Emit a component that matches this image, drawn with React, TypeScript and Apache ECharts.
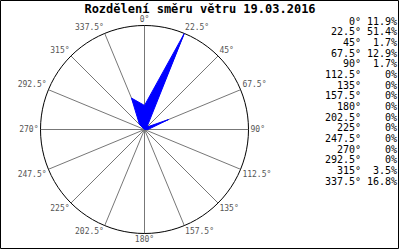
import React, { useEffect, useRef } from "react";
import * as echarts from "echarts";

const titleText = "Rozdělení směru větru 19.03.2016";
const directions = [0, 22.5, 45, 67.5, 90, 112.5, 135, 157.5, 180, 202.5, 225, 247.5, 270, 292.5, 315, 337.5];
const percents = [11.9, 51.4, 1.7, 12.9, 1.7, 0, 0, 0, 0, 0, 0, 0, 0, 0, 3.5, 16.8];

const MONO = "'DejaVu Sans Mono', 'Liberation Mono', monospace";

export default function App() {
  const ref = useRef<HTMLDivElement>(null);
  useEffect(() => {
    if (!ref.current) return;
    const chart = echarts.init(ref.current, undefined, { renderer: "svg" });
    const data = directions.map((d, i) => [percents[i], d]);
    data.push([percents[0], 360]);
    const legendRows: any[] = [];
    directions.forEach((d, i) => {
      const y = 21 + i * 10.67;
      legendRows.push({
        type: "text",
        x: 361,
        y,
        style: { text: `${d}°`, align: "right", verticalAlign: "middle", font: `10px ${MONO}`, fill: "#000" },
      });
      legendRows.push({
        type: "text",
        x: 397,
        y,
        style: { text: `${percents[i]}%`, align: "right", verticalAlign: "middle", font: `10px ${MONO}`, fill: "#000" },
      });
    });
    chart.setOption({
      animation: false,
      backgroundColor: "#fff",
      title: {
        text: titleText,
        left: "center",
        top: 2,
        padding: 0,
        textStyle: { fontFamily: MONO, fontWeight: "bold", fontSize: 12, lineHeight: 13, color: "#000" },
      },
      polar: { center: [144.5, 129.5], radius: 104 },
      angleAxis: {
        type: "value",
        min: 0,
        max: 360,
        interval: 22.5,
        startAngle: 90,
        clockwise: true,
        axisLine: { show: true, lineStyle: { color: "#000", width: 1 } },
        axisTick: { show: false },
        splitLine: { show: true, lineStyle: { color: "#777", width: 1 } },
        axisLabel: {
          show: true,
          margin: 2,
          color: "#555",
          fontFamily: MONO,
          fontSize: 8,
          formatter: (v: number) => (v >= 360 ? "" : `${v}°`),
        },
      },
      radiusAxis: {
        type: "value",
        min: 0,
        max: Math.max(...percents),
        axisLine: { show: false },
        axisTick: { show: false },
        axisLabel: { show: false },
        splitLine: { show: false },
      },
      series: [
        {
          type: "line",
          coordinateSystem: "polar",
          data,
          symbol: "none",
          lineStyle: { color: "#0000ff", width: 1 },
          areaStyle: { color: "#0000ff", opacity: 1 },
          z: 3,
        },
      ],
      graphic: [
        {
          type: "rect",
          shape: { x: 0.5, y: 0.5, width: 398, height: 248 },
          style: { fill: "none", stroke: "#000", lineWidth: 1 },
          silent: true,
        },
        ...legendRows,
      ],
    });
    return () => chart.dispose();
  }, []);
  return (
    <div
      ref={ref}
      style={{ position: "fixed", left: 0, top: 0, width: 400, height: 250 }}
    />
  );
}
